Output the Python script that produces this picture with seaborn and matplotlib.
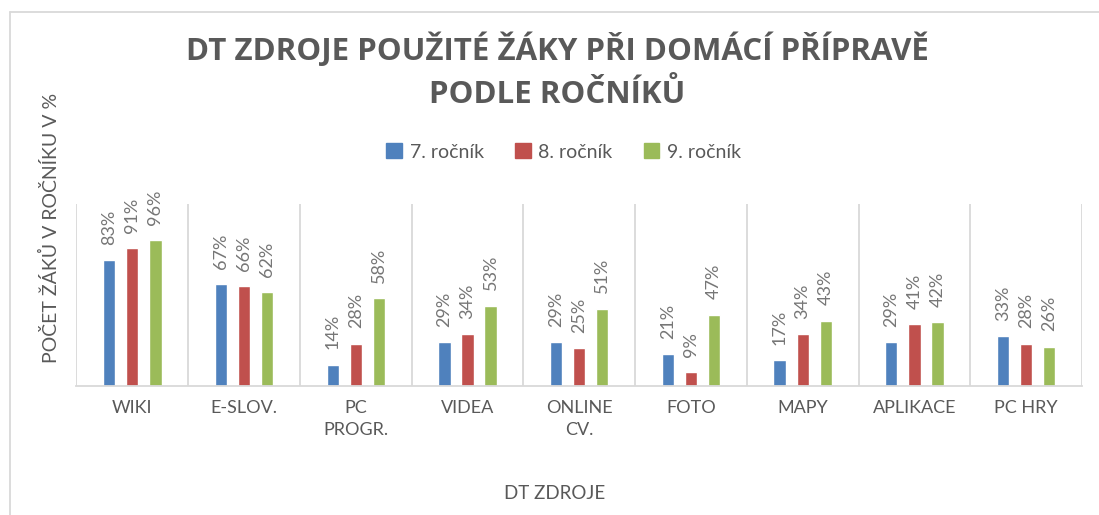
import numpy as np
import pandas as pd
import matplotlib
matplotlib.use("Agg")
import matplotlib.pyplot as plt
from matplotlib.lines import Line2D
from matplotlib import font_manager
import seaborn as sns

# data
categories = ["WIKI", "E-SLOV.", "PC\nPROGR.", "VIDEA", "ONLINE\nCV.", "FOTO", "MAPY", "APLIKACE", "PC HRY"]
grades = ["7. ročník", "8. ročník", "9. ročník"]
grade7 = [0.83, 0.67, 0.14, 0.29, 0.29, 0.21, 0.17, 0.29, 0.33]
grade8 = [0.91, 0.66, 0.28, 0.34, 0.25, 0.09, 0.34, 0.41, 0.28]
grade9 = [0.96, 0.62, 0.58, 0.53, 0.51, 0.47, 0.43, 0.42, 0.26]
colors = ["#4F81BD", "#C0504D", "#9BBB59"]

title = "DT ZDROJE POUŽITÉ ŽÁKY PŘI DOMÁCÍ PŘÍPRAVĚ\nPODLE ROČNÍKŮ"
ylabel = "POČET ŽÁKŮ V ROČNÍKU V %"
xlabel = "DT ZDROJE"

df = pd.DataFrame({
    "zdroj": categories * 3,
    "rocnik": [g for g in grades for _ in categories],
    "podil": grade7 + grade8 + grade9,
})

sns.set_style("white")
plt.rcParams["font.family"] = ["Lato", "DejaVu Sans"]
gray = "#595959"

fig = plt.figure(figsize=(10.99, 5.15), dpi=100)
ax = fig.add_axes([0.0696, 0.2505, 0.9149, 0.3534])

sns.barplot(data=df, x="zdroj", y="podil", hue="rocnik", order=categories,
            hue_order=grades, palette=colors, width=0.62, gap=0.47,
            saturation=1, ax=ax, legend=False)

for cont in ax.containers:
    ax.bar_label(cont, labels=[f"{v:.0%}" for v in cont.datavalues],
                 rotation=90, padding=11, fontsize=13, color="#767676")

ax.set_xlim(-0.5, 8.5)
ax.set_ylim(0, 1.2)
ax.set_yticks([])
ax.set_xlabel("")
ax.set_ylabel("")
ax.set_xticks(np.arange(-0.5, 9, 1), minor=True)
ax.grid(which="minor", axis="x", color="#D9D9D9", lw=1.3)
ax.grid(which="major", visible=False)
ax.tick_params(axis="x", which="both", length=0, pad=10, labelsize=13, labelcolor=gray)
for lab in ax.get_xticklabels():
    lab.set_linespacing(1.45)
for s in ["top", "left", "right"]:
    ax.spines[s].set_visible(False)
ax.spines["bottom"].set_color("#D9D9D9")
ax.spines["bottom"].set_linewidth(1.3)

# title in Open Sans Bold
title_path = font_manager.findfont(font_manager.FontProperties(family="Open Sans", weight="bold"))
title_font = font_manager.FontProperties(fname=title_path, size=22.5)
fig.text(0.507, 0.862, title, ha="center", va="center", fontproperties=title_font,
         color=gray, linespacing=1.48)
fig.text(0.0455, 0.557, ylabel, rotation=90, ha="center", va="center",
         fontsize=14, color=gray)
fig.text(0.505, 0.041, xlabel, ha="center", va="center", fontsize=13.5, color=gray)

handles = [plt.Rectangle((0, 0), 1, 1, color=c) for c in colors]
fig.legend(handles, grades, loc="center", bbox_to_anchor=(0.513, 0.705), ncol=3,
           frameon=False, fontsize=14, handlelength=0.8, handleheight=0.8,
           handletextpad=0.4, columnspacing=1.6, labelcolor=gray)

# chart border (left and top visible in the reference)
x0, y1 = 9.5 / 1099, 1 - 11.5 / 515
fig.add_artist(Line2D([x0, x0], [0, y1], color="#D9D9D9", lw=1.3))
fig.add_artist(Line2D([x0, 1], [y1, y1], color="#D9D9D9", lw=1.3))

fig.savefig("out.png", dpi=100)
